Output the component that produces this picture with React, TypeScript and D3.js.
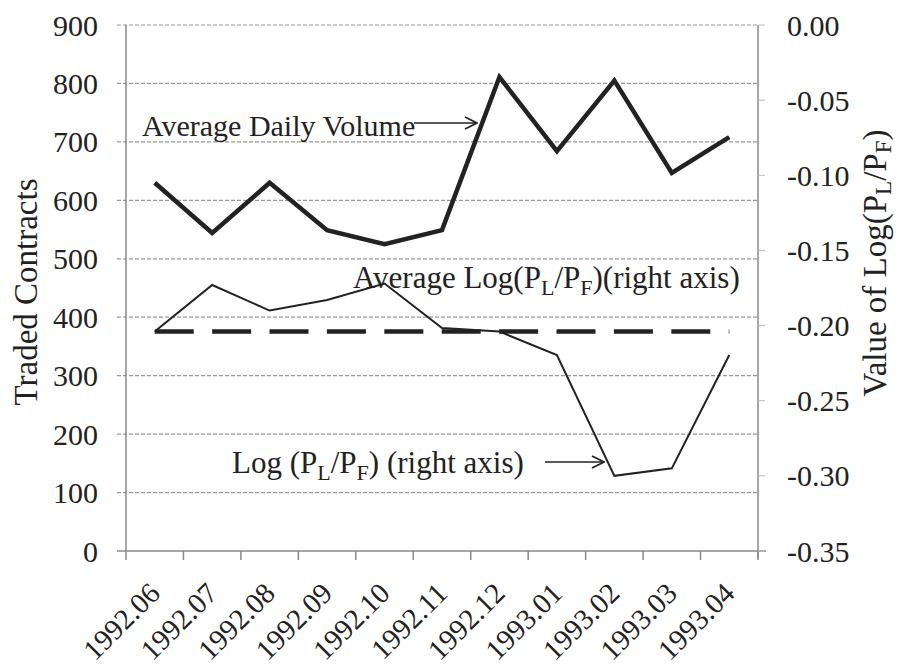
import React from "react";
import * as d3 from "d3";

const months = ["1992.06","1992.07","1992.08","1992.09","1992.10","1992.11","1992.12","1993.01","1993.02","1993.03","1993.04"];
const volume = [630, 544, 630, 549, 525, 549, 811, 684, 805, 647, 708];
const logRatio = [-0.204, -0.173, -0.190, -0.183, -0.172, -0.2016, -0.204, -0.2196, -0.300, -0.295, -0.2196];
const avgLog = [-0.204, -0.204, -0.204, -0.204, -0.204, -0.204, -0.204, -0.204, -0.204, -0.204, -0.204];
const leftTicks = [0, 100, 200, 300, 400, 500, 600, 700, 800, 900];
const rightTicks = [0, -0.05, -0.1, -0.15, -0.2, -0.25, -0.3, -0.35];

const W = 899, H = 665;
const L = 126, R = 758, T = 25, B = 551;
const FONT = "'Liberation Serif', 'Times New Roman', Times, 'DejaVu Serif', serif";

export default function App() {
  const x = d3.scaleBand<string>().domain(months).range([L, R]).padding(0);
  const cx = (m: string) => (x(m) as number) + x.bandwidth() / 2;
  const yL = d3.scaleLinear().domain([0, 900]).range([B, T]);
  const yR = d3.scaleLinear().domain([-0.35, 0]).range([B, T]);

  const volLine = d3.line<number>().x((_, i) => cx(months[i])).y(d => yL(d))(volume) as string;
  const logLine = d3.line<number>().x((_, i) => cx(months[i])).y(d => yR(d))(logRatio) as string;
  const avgLine = d3.line<number>().x((_, i) => cx(months[i])).y(d => yR(d))(avgLog) as string;

  const boundaries = months.map(m => x(m) as number).concat([R]);
  const sub = (s: string, size: number, d: number) => (
    <tspan fontSize={size} dy={d}>{s}</tspan>
  );

  return (
    <svg width={W} height={H} style={{ position: "absolute", left: 0, top: 0, background: "#fff", fontFamily: FONT }}>
      <defs>
        <marker id="arr" viewBox="0 0 14 14" refX="13" refY="7" markerWidth="14" markerHeight="14" markerUnits="userSpaceOnUse" orient="auto">
          <path d="M1,1 L13,7 L1,13" fill="none" stroke="#222" strokeWidth={1.8} />
        </marker>
      </defs>
      {leftTicks.filter(t => t > 0).map(t => (
        <line key={"g" + t} x1={L - 9} x2={R} y1={yL(t)} y2={yL(t)} stroke="#999" strokeWidth={1.2} strokeDasharray="4 2" />
      ))}
      <line x1={L} x2={L} y1={T} y2={B} stroke="#888" strokeWidth={1.5} />
      <line x1={R} x2={R} y1={T} y2={B + 8} stroke="#888" strokeWidth={1.5} />
      <line x1={L - 9} x2={R + 8} y1={B} y2={B} stroke="#888" strokeWidth={1.5} />
      {boundaries.map((b, i) => (
        <line key={"xt" + i} x1={b} x2={b} y1={B} y2={B + 9} stroke="#888" strokeWidth={1.5} />
      ))}
      {rightTicks.map(t => (
        <line key={"rt" + t} x1={R} x2={R + 7} y1={yR(t)} y2={yR(t)} stroke="#bbb" strokeWidth={1} />
      ))}
      {leftTicks.map(t => (
        <text key={"ll" + t} x={98} y={yL(t)} dy="0.35em" textAnchor="end" fontSize={30} fill="#222">{t}</text>
      ))}
      {rightTicks.map(t => (
        <text key={"rl" + t} x={787} y={yR(t)} dy="0.35em" textAnchor="start" fontSize={30} fill="#222">{t.toFixed(2)}</text>
      ))}
      {months.map(m => (
        <text key={"xl" + m} transform={`translate(${cx(m) + 7},${595}) rotate(-45)`} textAnchor="end" fontSize={29} fill="#222">{m}</text>
      ))}
      <text transform={`translate(37,292) rotate(-90)`} textAnchor="middle" fontSize={33} fill="#222">Traded Contracts</text>
      <text transform={`translate(886,263) rotate(-90)`} textAnchor="middle" fontSize={33} fill="#222">
        Value of Log(P{sub("L", 23, 5)}<tspan dy={-5}>/P</tspan>{sub("F", 23, 5)}<tspan dy={-5}>)</tspan>
      </text>
      <path d={avgLine} fill="none" stroke="#222" strokeWidth={4.5} strokeDasharray="39 18.4" />
      <path d={logLine} fill="none" stroke="#222" strokeWidth={2} />
      <path d={volLine} fill="none" stroke="#222" strokeWidth={4.5} strokeLinejoin="miter" />
      <text x={142} y={136} fontSize={30} fill="#222">Average Daily Volume</text>
      <line x1={414} x2={477} y1={123} y2={123} stroke="#222" strokeWidth={1.6} markerEnd="url(#arr)" />
      <text x={353} y={288} fontSize={31} fill="#222">
        Average Log(P{sub("L", 22, 7)}<tspan dy={-7}>/P</tspan>{sub("F", 22, 7)}<tspan dy={-7}>)(right axis)</tspan>
      </text>
      <text x={232} y={473} fontSize={31} fill="#222">
        Log (P{sub("L", 22, 7)}<tspan dy={-7}>/P</tspan>{sub("F", 22, 7)}<tspan dy={-7}>) (right axis)</tspan>
      </text>
      <line x1={545} x2={604} y1={462} y2={462} stroke="#222" strokeWidth={1.6} markerEnd="url(#arr)" />
    </svg>
  );
}
